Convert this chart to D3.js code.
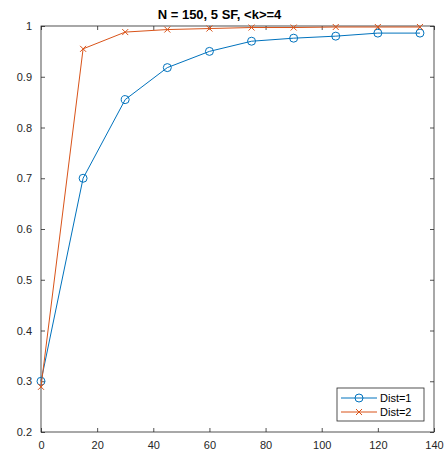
<!DOCTYPE html>
<html>
<head>
<meta charset="utf-8">
<script src="https://cdn.jsdelivr.net/npm/d3@7"></script>
<style>
body { margin: 0; background: #fff; }
text { font-family: "Liberation Sans", Arial, sans-serif; }
</style>
</head>
<body>
<div id="chart"></div>
<script>
// data
var xValues = [0, 15, 30, 45, 60, 75, 90, 105, 120, 135];
var dist1 = [0.3, 0.7, 0.855, 0.918, 0.95, 0.97, 0.976, 0.98, 0.986, 0.986];
var dist2 = [0.289, 0.955, 0.988, 0.993, 0.995, 0.997, 0.997, 0.998, 0.998, 0.998];
var seriesNames = ["Dist=1", "Dist=2"];
var xTicks = [0, 20, 40, 60, 80, 100, 120, 140];
var yTicks = [0.2, 0.3, 0.4, 0.5, 0.6, 0.7, 0.8, 0.9, 1];
var titleText = "N = 150, 5 SF, <k>=4";

var width = 444, height = 452;
//Plot box edges (window.top is reserved, so own names)
var plotLeft = 41, plotRight = 434, plotTop = 26, plotBottom = 432;
var axisColor = "#262626";
var colors = ["#0072BD", "#D95319"];

var svg = d3.select("#chart").append("svg")
	.attr("width", width)
	.attr("height", height);

var x = d3.scaleLinear().domain([0, 140]).range([plotLeft, plotRight]);
var y = d3.scaleLinear().domain([0.2, 1]).range([plotBottom, plotTop]);

//Box
svg.append("rect")
	.attr("x", plotLeft).attr("y", plotTop)
	.attr("width", plotRight - plotLeft).attr("height", plotBottom - plotTop)
	.style("fill", "none")
	.style("stroke", axisColor)
	.style("stroke-width", 0.8);

//Axes with inward ticks
svg.append("g")
	.attr("transform", "translate(0," + plotBottom + ")")
	.call(d3.axisBottom(x).tickValues(xTicks).tickSizeInner(-4).tickSizeOuter(0).tickPadding(9))
	.call(function(g) { g.select(".domain").remove(); });
svg.append("g")
	.attr("transform", "translate(0," + plotTop + ")")
	.call(d3.axisTop(x).tickValues(xTicks).tickSizeInner(-4).tickSizeOuter(0).tickFormat(""))
	.call(function(g) { g.select(".domain").remove(); });
svg.append("g")
	.attr("transform", "translate(" + plotLeft + ",0)")
	.call(d3.axisLeft(y).tickValues(yTicks).tickSizeInner(-4).tickSizeOuter(0).tickPadding(9)
		.tickFormat(function(d) { return d === 1 ? "1" : d3.format(".1f")(d); }))
	.call(function(g) { g.select(".domain").remove(); });
svg.append("g")
	.attr("transform", "translate(" + plotRight + ",0)")
	.call(d3.axisRight(y).tickValues(yTicks).tickSizeInner(-4).tickSizeOuter(0).tickFormat(""))
	.call(function(g) { g.select(".domain").remove(); });

svg.selectAll(".tick line").style("stroke", axisColor).style("stroke-width", 0.8);
svg.selectAll(".tick text")
	.style("fill", axisColor)
	.style("font-size", "11px")
	.style("font-family", "Liberation Sans, Arial, sans-serif");

//Title (sits a bit left of the plot centre in the reference)
svg.append("text")
	.attr("x", 219.5)
	.attr("y", 19)
	.attr("text-anchor", "middle")
	.style("font-size", "13px")
	.style("font-weight", "bold")
	.style("fill", "#000")
	.text(titleText);

var line = d3.line()
	.x(function(d, i) { return x(xValues[i]); })
	.y(function(d) { return y(d); });

function drawCircle(g, cx, cy, color) {
	g.append("circle")
		.attr("cx", cx).attr("cy", cy).attr("r", 4)
		.style("fill", "none")
		.style("stroke", color)
		.style("stroke-width", 1);
}
function drawCross(g, cx, cy, color) {
	var s = 3;
	g.append("path")
		.attr("d", "M" + (cx - s) + "," + (cy - s) + "L" + (cx + s) + "," + (cy + s) +
			"M" + (cx - s) + "," + (cy + s) + "L" + (cx + s) + "," + (cy - s))
		.style("stroke", color)
		.style("stroke-width", 1);
}

var seriesList = [dist1, dist2];
var markers = [drawCircle, drawCross];

seriesList.forEach(function(values, s) {
	var g = svg.append("g");
	g.append("path")
		.datum(values)
		.attr("d", line)
		.style("fill", "none")
		.style("stroke", colors[s])
		.style("stroke-width", 1);
	values.forEach(function(v, i) {
		markers[s](g, x(xValues[i]), y(v), colors[s]);
	});
});

//Legend
var legend = svg.append("g");
legend.append("rect")
	.attr("x", 337).attr("y", 388)
	.attr("width", 87).attr("height", 33)
	.style("fill", "#fff")
	.style("stroke", axisColor)
	.style("stroke-width", 0.8);
seriesNames.forEach(function(name, s) {
	var ly = 398 + s * 14;
	legend.append("line")
		.attr("x1", 341).attr("x2", 377)
		.attr("y1", ly).attr("y2", ly)
		.style("stroke", colors[s])
		.style("stroke-width", 1);
	markers[s](legend, 359, ly, colors[s]);
	legend.append("text")
		.attr("x", 380).attr("y", ly + 4)
		.style("font-size", "11px")
		.style("fill", "#000")
		.text(name);
});
</script>
</body>
</html>
